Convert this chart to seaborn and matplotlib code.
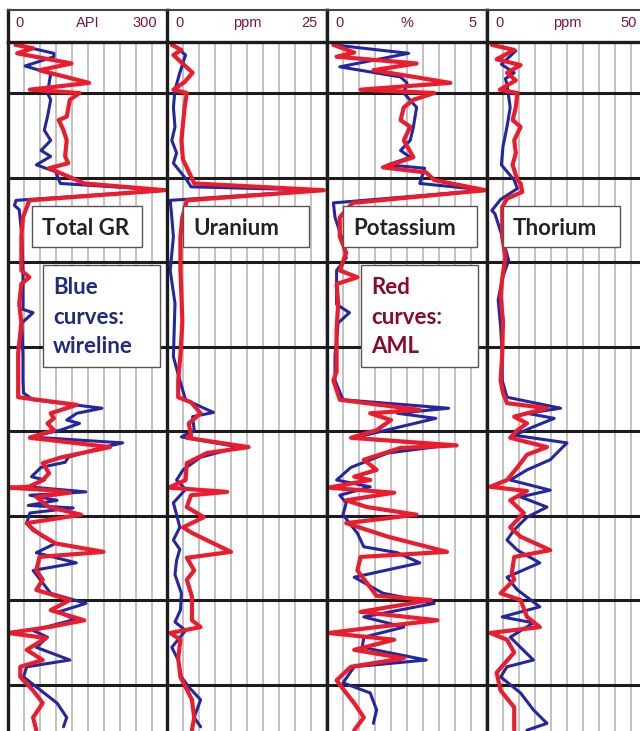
import numpy as np
import pandas as pd
import seaborn as sns
import matplotlib.pyplot as plt
from matplotlib.patches import Rectangle

# depth in m, values in track units
gr_blue_depth = [94.3, 95.3, 95.7, 96.8, 97.7, 100.0, 100.8, 102.8, 104.4, 105.6, 106.8, 107.5, 108.5, 109.3, 110.7,
                 111.5, 112.7, 113.3, 113.8, 117.0, 121.0, 125.6, 126.0, 127.2, 131.2, 134.0, 135.5, 136.3, 137.3, 137.9,
                 138.7, 139.1, 139.9, 140.7, 141.4, 142.0, 143.1, 143.7, 144.3, 145.4, 145.8, 146.6, 147.2, 147.6, 148.2,
                 148.8, 149.1, 149.7, 150.9, 152.5, 153.3, 154.4, 155.6, 156.5, 159.2, 160.4, 161.4, 162.3, 163.6, 164.4,
                 165.6, 167.1, 167.9, 169.1, 172.2, 173.9, 175.0]
gr_blue = [18, 87, 87, 33, 81, 75, 81, 75, 69, 81, 63, 81, 54, 90, 99,
           298, 16, 13, 22, 27, 29, 29, 48, 27, 29, 29, 30, 48, 177, 130,
           111, 135, 99, 42, 216, 174, 114, 108, 63, 45, 69, 39, 147, 42, 93,
           39, 123, 42, 36, 66, 90, 54, 129, 48, 81, 147, 96, 126, 48, 75,
           54, 117, 36, 30, 93, 111, 105]
gr_red_depth = [94.3, 94.7, 95.3, 96.5, 97.3, 98.8, 99.6, 100.0, 100.8, 102.8, 103.2, 104.4, 105.6, 107.5, 108.3,
                108.9, 110.7, 111.5, 112.7, 114.7, 117.0, 121.0, 121.8, 122.6, 124.9, 127.2, 130.8, 134.0, 136.0, 136.9,
                137.9, 138.5, 139.1, 139.9, 140.8, 141.9, 142.5, 143.1, 143.8, 145.0, 145.8, 146.6, 146.7, 147.0, 147.3,
                147.8, 149.0, 149.9, 150.9, 151.7, 153.3, 154.3, 154.9, 156.5, 157.6, 158.8, 160.0, 161.2, 162.4, 163.2,
                163.9, 164.5, 165.9, 167.1, 167.9, 169.1, 170.7, 172.2, 173.9, 175.4]
gr_red = [15, 48, 18, 120, 60, 153, 42, 135, 117, 111, 96, 105, 111, 108, 114,
          78, 144, 295, 41, 29, 26, 26, 41, 26, 22, 26, 20, 20, 20, 130,
          81, 87, 75, 87, 42, 192, 147, 102, 66, 78, 66, 40, 2, 81, 117,
          54, 78, 138, 36, 48, 90, 180, 60, 54, 66, 54, 117, 81, 144, 78,
          2, 72, 36, 66, 24, 24, 48, 66, 48, 54]

u_blue_depth = [94.3, 95.5, 97.6, 99.6, 101.7, 104.0, 105.6, 107.1, 108.3, 110.3, 111.1, 111.5, 112.7, 114.7, 117.0,
                121.0, 124.9, 131.2, 134.0, 136.3, 137.8, 138.3, 139.9, 140.7, 141.9, 143.1, 144.6, 145.8, 146.9, 148.5,
                149.9, 151.4, 152.9, 154.0, 155.3, 157.0, 159.2, 161.2, 162.6, 163.6, 165.6, 167.1, 169.1, 170.3, 171.8,
                173.9, 175.0]
u_blue = [1.0, 2.9, 2.0, 1.25, 1.0, 1.25, 0.75, 1.5, 1.0, 3.1, 3.75, 24.5, 0.5, 0.75, 1.0,
          0.5, 1.25, 1.0, 2.0, 2.9, 7.25, 4.0, 4.25, 2.25, 11.25, 5.25, 2.5, 1.5, 2.9, 1.0,
          1.5, 2.0, 1.0, 2.0, 1.5, 1.25, 2.25, 2.1, 1.25, 2.9, 0.75, 1.75, 2.25, 3.4, 5.25,
          4.25, 5.25]
u_red_depth = [94.3, 94.9, 95.5, 97.6, 98.7, 99.6, 100.0, 101.7, 105.6, 107.9, 108.8, 110.7, 111.5, 112.7, 114.7,
               117.0, 121.0, 127.0, 131.0, 134.0, 136.0, 136.6, 137.9, 139.1, 140.5, 140.8, 141.9, 142.6, 143.8, 145.8,
               146.7, 147.2, 147.6, 149.0, 150.2, 151.4, 152.1, 154.3, 155.0, 156.5, 157.6, 159.6, 162.4, 163.2, 163.9,
               164.7, 166.9, 169.1, 170.3, 171.8, 173.9, 175.4]
u_red = [0.75, 2.25, 1.0, 4.0, 2.75, 1.0, 3.1, 2.75, 2.25, 2.5, 3.1, 4.25, 24.5, 3.1, 2.4,
         2.1, 2.1, 2.4, 2.1, 1.75, 1.75, 3.75, 5.25, 3.4, 3.75, 3.1, 12.75, 6.25, 3.1, 2.9,
         0.25, 9.4, 3.75, 3.1, 5.75, 2.5, 4.0, 10.0, 3.1, 4.25, 3.1, 3.9, 3.9, 5.25, 0.5,
         2.1, 1.75, 2.1, 2.9, 3.9, 4.25, 3.9]

k_blue_depth = [94.3, 95.3, 96.9, 98.1, 98.8, 100.0, 101.7, 104.0, 105.6, 106.8, 107.6, 108.5, 108.9, 110.7, 111.5,
                113.0, 114.7, 117.0, 119.5, 121.0, 125.0, 126.0, 127.2, 131.0, 134.0, 136.3, 137.3, 137.9, 138.5, 139.4,
                140.8, 141.7, 142.6, 144.3, 145.8, 146.6, 147.6, 148.5, 149.9, 152.1, 153.7, 154.4, 155.6, 157.3, 159.2,
                160.4, 162.0, 163.2, 164.4, 165.6, 167.1, 167.9, 169.8, 171.0, 173.0, 174.6]
k_blue = [0.2, 2.55, 0.4, 2.3, 2.5, 2.4, 2.8, 2.7, 2.6, 2.3, 2.6, 1.9, 3.05, 2.9, 5.0,
          0.2, 0.25, 0.45, 0.6, 0.3, 0.3, 0.7, 0.35, 0.25, 0.25, 0.5, 3.8, 2.2, 3.4, 2.4,
          0.85, 3.75, 1.9, 0.75, 0.3, 1.35, 0.4, 0.6, 0.5, 0.95, 1.15, 2.2, 2.9, 0.85, 1.75,
          3.35, 1.15, 2.4, 1.15, 1.1, 3.1, 0.85, 0.5, 1.35, 1.55, 1.45]
k_red_depth = [94.3, 95.2, 95.7, 96.5, 97.3, 98.8, 99.6, 100.0, 100.8, 101.7, 103.2, 104.0, 105.6, 107.6, 108.8,
               109.4, 110.3, 111.5, 113.0, 114.7, 117.0, 118.9, 121.0, 121.8, 122.6, 124.9, 128.0, 133.0, 134.0, 136.3,
               137.5, 137.9, 138.7, 139.9, 140.8, 141.7, 142.0, 143.4, 144.6, 145.4, 145.8, 146.7, 147.3, 148.2, 149.0,
               149.9, 150.9, 152.5, 154.3, 154.9, 156.5, 158.0, 159.5, 160.0, 161.4, 162.4, 163.2, 163.9, 164.7, 165.9,
               166.9, 167.9, 169.5, 171.0, 172.2, 173.9, 175.4]
k_red = [0.2, 0.85, 0.3, 2.8, 1.45, 3.85, 1.05, 3.35, 2.7, 2.4, 2.3, 2.6, 2.4, 2.7, 1.75,
         3.1, 3.35, 4.95, 0.8, 0.4, 0.4, 0.6, 0.4, 0.95, 0.3, 0.35, 0.3, 0.3, 0.2, 0.4,
         2.9, 1.35, 2.0, 1.55, 0.75, 4.05, 2.3, 1.15, 1.55, 0.85, 1.35, 0.05, 2.1, 0.6, 1.25,
         2.8, 0.6, 1.9, 3.75, 1.05, 0.95, 1.25, 1.55, 3.25, 1.05, 3.45, 1.55, 0.05, 2.1, 0.85,
         2.4, 0.75, 0.3, 0.6, 0.85, 1.15, 0.85]

th_blue_depth = [94.3, 95.0, 96.6, 97.6, 98.3, 99.0, 101.7, 104.0, 106.3, 108.5, 110.3, 111.3, 112.6, 113.9, 114.3,
                 117.0, 119.8, 122.0, 124.5, 127.6, 131.0, 134.0, 136.0, 137.3, 137.9, 138.5, 139.5, 140.5, 141.4, 143.4,
                 144.6, 145.8, 147.0, 147.8, 149.0, 150.2, 151.7, 152.9, 154.1, 155.6, 157.3, 158.8, 160.8, 162.0, 162.7,
                 164.4, 167.1, 167.9, 169.1, 171.0, 173.0, 174.6, 175.4]
th_blue = [2.0, 9.0, 4.5, 8.5, 5.75, 6.25, 7.25, 6.25, 5.0, 4.5, 8.5, 9.5, 4.25, 1.5, 2.5,
           4.75, 6.75, 4.75, 3.5, 4.25, 4.75, 4.75, 6.25, 23.0, 12.5, 21.0, 14.5, 8.5, 25.0, 19.75,
           12.5, 7.25, 19.75, 10.5, 18.75, 12.5, 8.5, 6.25, 9.5, 16.5, 6.25, 9.5, 16.5, 4.75, 14.5,
           7.25, 14.5, 6.25, 4.25, 10.5, 14.5, 18.75, 12.5]
th_red_depth = [94.3, 94.9, 96.0, 96.7, 97.6, 98.5, 99.6, 100.0, 101.7, 103.2, 104.0, 105.6, 107.1, 108.5, 110.3,
                110.7, 111.7, 112.5, 113.5, 117.0, 119.4, 122.0, 124.0, 127.0, 131.0, 134.0, 135.5, 136.7, 137.3, 138.3,
                139.1, 139.9, 140.8, 141.9, 142.8, 144.3, 145.8, 146.6, 147.1, 148.2, 149.7, 151.4, 152.5, 154.1, 154.9,
                156.8, 157.6, 159.2, 160.0, 162.0, 163.2, 163.9, 164.7, 166.2, 168.6, 170.7, 172.7, 175.4]
th_red = [1.5, 8.5, 3.0, 10.5, 6.25, 9.0, 4.0, 9.5, 9.0, 8.0, 10.5, 8.5, 9.0, 8.0, 9.5,
          10.5, 11.0, 6.25, 4.75, 4.75, 5.75, 4.75, 4.25, 5.0, 4.75, 4.25, 5.0, 6.25, 18.75, 8.5,
          12.5, 9.5, 7.25, 18.75, 12.5, 9.5, 6.25, 1.0, 12.5, 7.25, 11.5, 7.25, 10.5, 19.75, 8.5,
          7.75, 8.5, 4.25, 10.5, 12.5, 16.5, 1.0, 6.25, 8.5, 3.0, 4.25, 8.5, 8.5]

track_names = ["Total GR", "Uranium", "Potassium", "Thorium"]
track_units = ["API", "ppm", "%", "ppm"]
track_max = [300, 25, 5, 50]
track_max_labels = ["300", "25", "5", "50"]
depth_lines = [100, 110, 120, 130, 140, 150, 160, 170]

curves = [
    (gr_blue_depth, gr_blue, gr_red_depth, gr_red),
    (u_blue_depth, u_blue, u_red_depth, u_red),
    (k_blue_depth, k_blue, k_red_depth, k_red),
    (th_blue_depth, th_blue, th_red_depth, th_red),
]

BLUE = "#2327a0"
RED = "#ec1c2c"

sns.set_style("white")
plt.rcParams["font.family"] = ["Liberation Sans", "DejaVu Sans"]

W, H = 640, 731
fig = plt.figure(figsize=(W / 100, H / 100), dpi=100)


def fx(x):
    return x / W


def fy(y):
    return 1 - y / H


track_left = [7.5, 167, 327, 487]
track_w = 160
top_y, head_y = 10, 42
depth_top, depth_bot = 93.96, 175.5

for i in range(4):
    L = track_left[i]
    vmax = track_max[i]
    bd, bv, rd, rv = curves[i]

    ax = fig.add_axes([fx(L), 0, track_w / W, (H - head_y) / H])
    blue = pd.DataFrame({"depth": bd, "value": bv})
    red = pd.DataFrame({"depth": rd, "value": rv})
    sns.lineplot(data=blue, x="value", y="depth", orient="y", estimator=None,
                 color=BLUE, lw=2.2, ax=ax, zorder=4)
    sns.lineplot(data=red, x="value", y="depth", orient="y", estimator=None,
                 color=RED, lw=3.0, ax=ax, zorder=5)
    ax.set_xlim(0, vmax)
    ax.set_ylim(depth_bot, depth_top)
    ax.set_xticks(np.linspace(0, vmax, 11))
    ax.set_yticks([])
    ax.grid(axis="x", color="#b8b8b8", lw=1.2)
    ax.set_axisbelow(True)
    ax.tick_params(length=0, labelbottom=False, labelleft=False)
    ax.set_xlabel("")
    ax.set_ylabel("")
    for d in depth_lines:
        ax.axhline(d, color="#1c1c1c", lw=2.2, zorder=3)
    for s in ["top", "bottom"]:
        ax.spines[s].set_visible(False)
    for s in ["left", "right"]:
        ax.spines[s].set_color("#1c1c1c")
        ax.spines[s].set_linewidth(2.4)
        ax.spines[s].set_zorder(6)

    hax = fig.add_axes([fx(L), fy(head_y), track_w / W, (head_y - top_y) / H])
    hax.set_xlim(0, 1)
    hax.set_ylim(0, 1)
    hax.set_xticks([])
    hax.set_yticks([])
    hax.spines["top"].set_color("#444444")
    hax.spines["top"].set_linewidth(1.5)
    for s in ["bottom", "left", "right"]:
        hax.spines[s].set_color("#1c1c1c")
        hax.spines[s].set_linewidth(2.4)
    hcol = "#7a1535"
    hax.text(8 / track_w, 0.6, "0", ha="left", va="center", fontsize=10.5, color=hcol)
    hax.text(0.5, 0.6, track_units[i], ha="center", va="center", fontsize=10.5, color=hcol)
    hax.text(1 - 10 / track_w, 0.6, track_max_labels[i], ha="right", va="center", fontsize=10.5, color=hcol)

label_font = ["Lato", "DejaVu Sans"]

# track name boxes
name_boxes = [(32, 110), (183, 126), (343, 134), (503, 117)]
for (bx, bw), name in zip(name_boxes, track_names):
    fig.add_artist(Rectangle((fx(bx), fy(247)), bw / W, 41 / H, transform=fig.transFigure,
                             fc="white", ec="#555555", lw=1, zorder=10))
    fig.text(fx(bx + 10), fy(235), name, ha="left", va="baseline", fontsize=16,
             fontweight="bold", family=label_font, color="#222222", zorder=11)

# curve legend boxes
legend_boxes = [(43, 117, ["Blue", "curves:", "wireline"], "#1f2a80"),
                (361, 117, ["Red", "curves:", "AML"], "#8b0a2a")]
for bx, bw, lines, col in legend_boxes:
    fig.add_artist(Rectangle((fx(bx), fy(367)), bw / W, 102 / H, transform=fig.transFigure,
                             fc="white", ec="#555555", lw=1, zorder=10))
    for k, t in enumerate(lines):
        fig.text(fx(bx + 10), fy(294 + 29.5 * k), t, ha="left", va="baseline", fontsize=16,
                 fontweight="bold", family=label_font, color=col, zorder=11)

fig.savefig("out.png", dpi=100, facecolor="white")
